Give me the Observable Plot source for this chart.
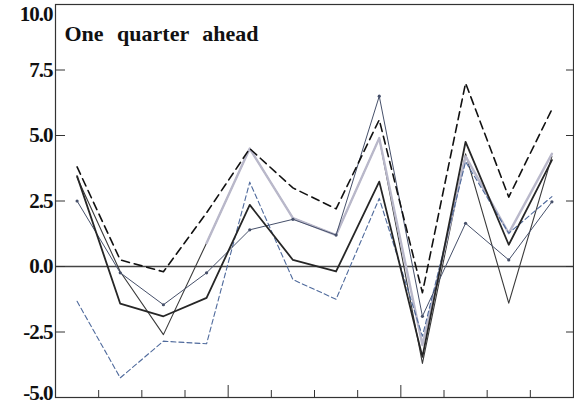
<!DOCTYPE html>
<html><head><meta charset="utf-8">
<script src="https://cdn.jsdelivr.net/npm/d3@7"></script>
<script src="https://cdn.jsdelivr.net/npm/@observablehq/plot@0.6"></script>
<style>
body{margin:0;background:#fff}
#chart{width:574px;height:406px}
</style>
</head><body><div id="chart"></div>
<script>
const title = "One quarter ahead";
const quarters = [0,1,2,3,4,5,6,7,8,9,10,11];
const yTicks = [-5, -2.5, 0, 2.5, 5, 7.5, 10];
const minorXTicks = [1,2,3,5,6,7,9,10,11];
const majorXTicks = [4,8];

// series values, one per quarter (null = not drawn)
const dashedBlack = [3.8, 0.25, -0.2, 2.05, 4.5, 3.0, 2.2, 5.6, -1.0, 7.0, 2.65, 6.0];
const solidBlack  = [3.45, -1.42, -1.9, -1.2, 2.35, 0.25, -0.19, 3.24, -3.45, 4.76, 0.83, 4.06];
const grayThick   = [null, null, null, 0.9, 4.5, 1.85, 1.2, 4.9, -3.0, 4.2, 1.27, 4.3];
const darkThin    = [3.4, -0.2, -2.6, 0.9, 4.5, 1.85, 1.2, 4.9, -3.7, 4.3, -1.4, 4.2];
const blueDashed  = [-1.33, -4.25, -2.85, -2.95, 3.22, -0.5, -1.25, 2.6, -2.66, 4.0, 1.27, 2.67];
const markerLine  = [2.5, -0.24, -1.46, -0.24, 1.4, 1.8, 1.2, 6.5, -1.9, 1.65, 0.25, 2.47];

const toRows = (name, vals) => vals.map((v, i) => ({series: name, q: quarters[i] + 0.5, value: v == null ? NaN : v}));
const rows = {
  dashedBlack: toRows("dashedBlack", dashedBlack),
  solidBlack: toRows("solidBlack", solidBlack),
  grayThick: toRows("grayThick", grayThick),
  darkThin: toRows("darkThin", darkThin),
  blueDashed: toRows("blueDashed", blueDashed),
  markerLine: toRows("markerLine", markerLine)
};

const fmt = d => d.toFixed(1);
const labelFont = {fontFamily: "Liberation Serif", fontSize: 21, fontWeight: "bold"};

const plot = Plot.plot({
  width: 574,
  height: 406,
  marginLeft: 55,
  marginRight: 1,
  marginTop: 4,
  marginBottom: 9,
  style: {background: "#fff", color: "#222", fontFamily: "Liberation Serif"},
  x: {domain: [0, 12], label: null},
  y: {domain: [-5, 10], label: null},
  marks: [
    Plot.ruleY([0], {stroke: "#444", strokeWidth: 1.3}),
    Plot.line(rows.darkThin, {x: "q", y: "value", stroke: "#3a3a3a", strokeWidth: 1.1}),
    Plot.line(rows.grayThick, {x: "q", y: "value", stroke: "#b9b8ca", strokeWidth: 2.4}),
    Plot.line(rows.blueDashed, {x: "q", y: "value", stroke: "#4f6a9c", strokeWidth: 1.1, strokeDasharray: "5,3"}),
    Plot.line(rows.markerLine, {x: "q", y: "value", stroke: "#46506a", strokeWidth: 1}),
    Plot.dot(rows.markerLine, {x: "q", y: "value", r: 1.6, fill: "#46506a"}),
    Plot.line(rows.solidBlack, {x: "q", y: "value", stroke: "#262626", strokeWidth: 1.8}),
    Plot.line(rows.dashedBlack, {x: "q", y: "value", stroke: "#111", strokeWidth: 1.6, strokeDasharray: "8,5"}),
    Plot.frame({stroke: "#333", strokeWidth: 1.2}),
    // inward ticks
    Plot.axisY(yTicks, {anchor: "left", tickSize: 10, dx: 10, fill: "none", stroke: "#333", label: null}),
    Plot.axisY(yTicks.filter(d => d > -5 && d < 10), {anchor: "right", tickSize: 8, dx: -8, fill: "none", stroke: "#333", label: null}),
    Plot.axisX(minorXTicks, {anchor: "bottom", tickSize: 7, dy: -7, fill: "none", stroke: "#333", label: null}),
    Plot.axisX(majorXTicks, {anchor: "bottom", tickSize: 12, dy: -12, fill: "none", stroke: "#333", label: null}),
    // labels
    Plot.axisY(yTicks.filter(d => d > -5 && d < 10), {anchor: "left", tickSize: 0, tickPadding: 3, tickFormat: fmt, fill: "#111", label: null, ...labelFont}),
    Plot.axisY([10], {anchor: "left", tickSize: 0, tickPadding: 3, tickFormat: fmt, fill: "#111", dy: 9.5, label: null, ...labelFont}),
    Plot.axisY([-5], {anchor: "left", tickSize: 0, tickPadding: 3, tickFormat: fmt, fill: "#111", dy: -4.5, label: null, ...labelFont}),
    Plot.text([title], {frameAnchor: "top-left", dx: 9, dy: 21, lineAnchor: "top", textAnchor: "start", fill: "#111", fontFamily: "Liberation Serif", fontSize: 22, fontWeight: "bold"})
  ]
});

d3.select(plot).selectAll("text").filter(function(){ return this.textContent === title; }).style("word-spacing", "8px");
d3.select(plot).selectAll("g[aria-label='y-axis tick label'] text").style("letter-spacing", "-1px");
document.getElementById("chart").appendChild(plot);
</script>
</body></html>
